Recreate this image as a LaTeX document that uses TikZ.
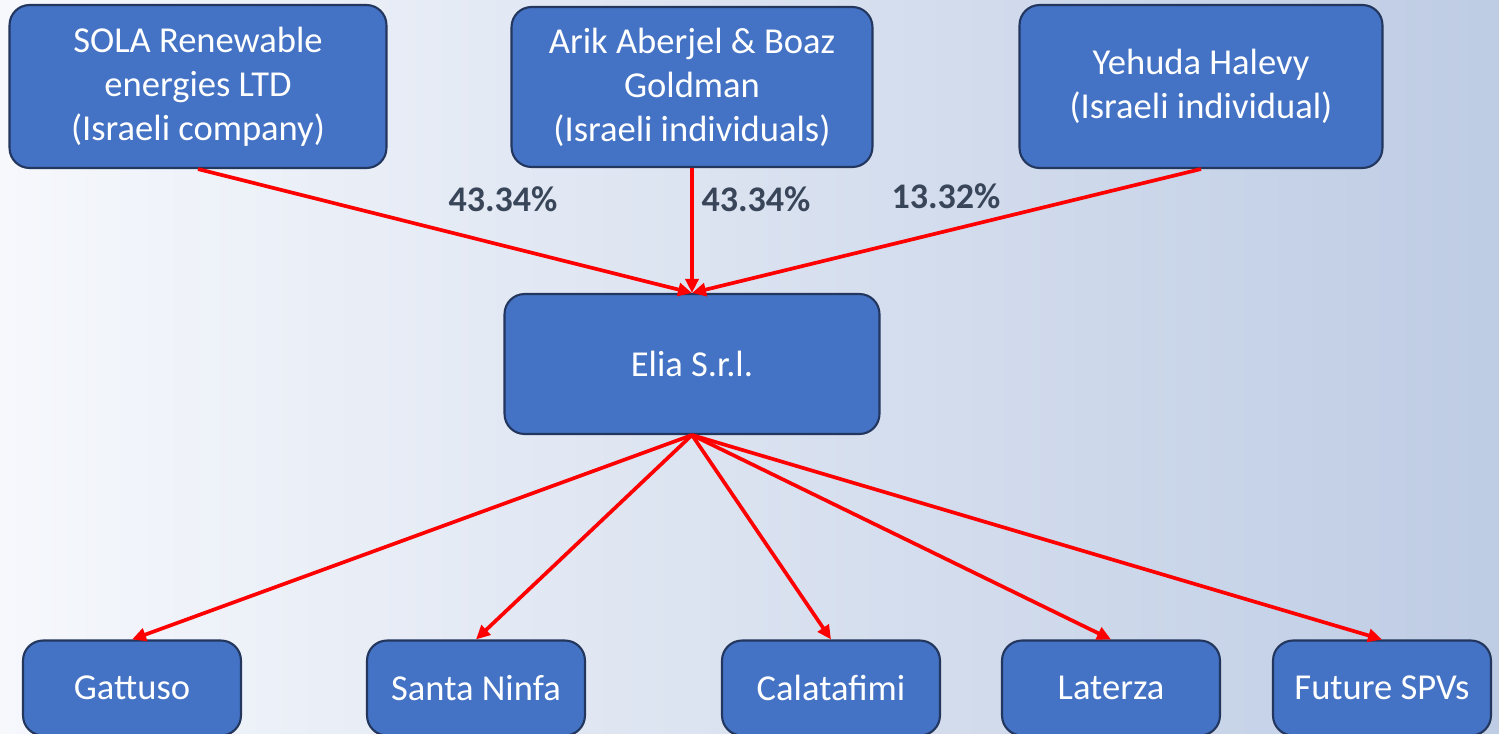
\documentclass[tikz,border=0pt]{standalone}
\usepackage{fontspec}
\setmainfont{Carlito}
\usetikzlibrary{arrows.meta,positioning}

\definecolor{boxblue}{HTML}{4472C4}
\definecolor{boxedge}{HTML}{22365E}
\definecolor{pctgray}{HTML}{39465A}
\definecolor{bgleft}{HTML}{F6F8FC}
\definecolor{bgright}{HTML}{BECCE4}

\begin{document}
\begin{tikzpicture}[
        x=0.02cm, y=-0.02cm,
        entity/.style={rectangle, rounded corners=0.4cm, fill=boxblue, draw=boxedge, line width=1.2pt,
            text=white, align=center, font=\fontsize{20.8}{25}\selectfont, inner sep=0pt},
        topbox/.style={entity, minimum width=7.4cm, minimum height=3.2cm},
        spv/.style={entity, minimum width=4.36cm, minimum height=1.9cm},
        share/.style={red, line width=2.1pt, -{Triangle[length=0.28cm, width=0.26cm]}},
        pct/.style={font=\fontsize{20.5}{24}\selectfont\bfseries, text=pctgray},
    ]
        % background
        \shade[left color=bgleft, right color=bgright] (0,0) rectangle (1499,734);
        \useasboundingbox (0,0) rectangle (1499,734);

        % Shareholders
        \node[topbox, minimum width=7.54cm, minimum height=3.26cm] (sola) at (198,86.5) {SOLA Renewable\\energies LTD\\(Israeli company)};
        \node[topbox, minimum width=7.22cm, minimum height=3.2cm] (arik) at (692,87) {Arik Aberjel \& Boaz\\Goldman\\(Israeli individuals)};
        \node[topbox, minimum width=7.26cm, minimum height=3.26cm] (yehuda) at (1201,86.5) {Yehuda Halevy\\(Israeli individual)};

        % Holding
        \node[entity, minimum width=7.5cm, minimum height=2.8cm] (elia) at (692,364) {Elia S.r.l.};

        % SPVs
        \node[spv] (gattuso) at (132,688) {Gattuso};
        \node[spv] (ninfa) at (476,688) {Santa Ninfa};
        \node[spv] (calata) at (831,688) {Calatafimi};
        \node[spv] (laterza) at (1111,688) {Laterza};
        \node[spv] (future) at (1382,688) {Future SPVs};

        % Shares
        \draw[share] (sola.south) -- (elia.north);
        \draw[share] (arik.south) -- (elia.north);
        \draw[share] (yehuda.south) -- (elia.north);

        \node[pct] (p1) at (503,199) {43.34\%};
        \node[pct] (p2) at (756,199) {43.34\%};
        \node[pct] (p3) at (946,196) {13.32\%};

        % Subsidiaries
        \foreach \spvname in {gattuso, ninfa, calata, laterza, future} {
            \draw[share] (elia.south) -- (\spvname.north);
        }
    \end{tikzpicture}
\end{document}
